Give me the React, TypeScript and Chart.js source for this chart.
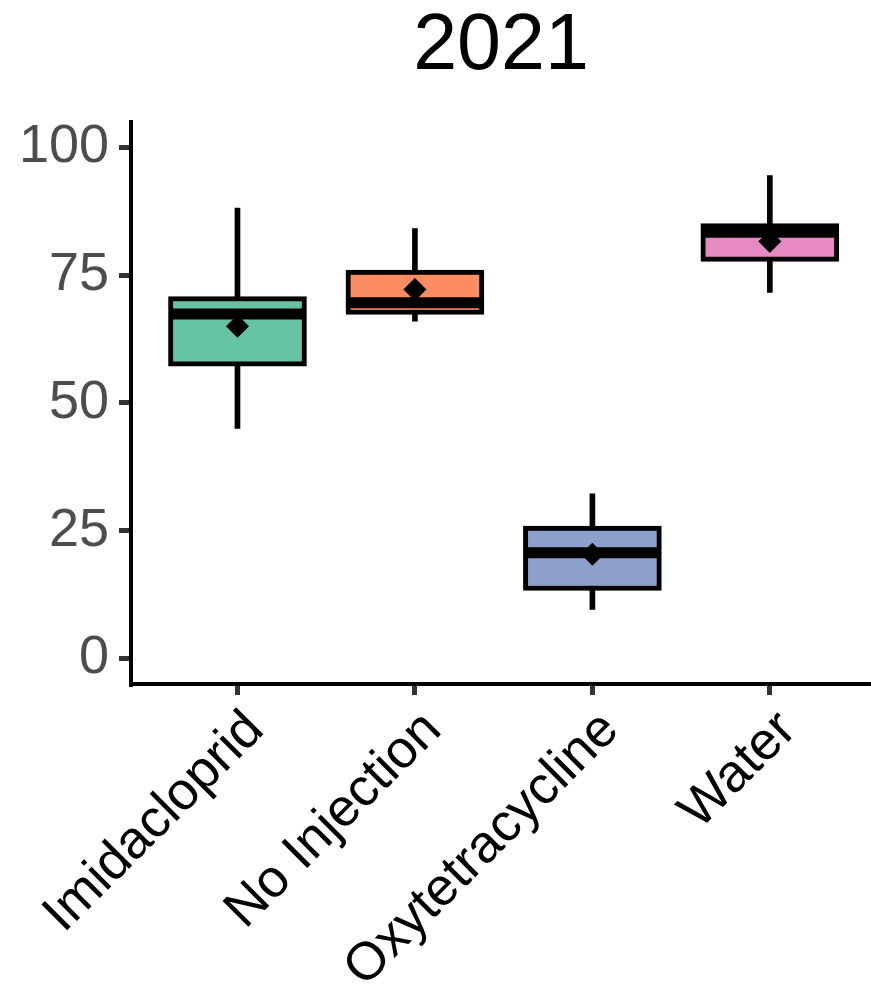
import React, { useEffect, useRef } from "react";
import { Chart, registerables } from "chart.js";

Chart.register(...registerables);

const TITLE = "2021";
const CATEGORIES = ["Imidacloprid", "No Injection", "Oxytetracycline", "Water"];
const WHISKER_LOW = [45.0, 66.0, 9.6, 71.6];
const Q1 = [57.2, 67.3, 13.3, 77.7];
const MEDIAN = [67.4, 69.6, 20.7, 83.4];
const Q3 = [70.8, 76.0, 25.9, 85.1];
const WHISKER_HIGH = [88.1, 84.1, 32.2, 94.5];
const MEAN = [65.0, 72.2, 20.4, 81.6];
const BOX_COLORS = ["#66C2A5", "#FC8D62", "#8DA0CB", "#E78AC3"];
const Y_TICKS = [0, 25, 50, 75, 100];

const FONT = "'Liberation Sans', Arial, Helvetica, sans-serif";

export default function App() {
  const ref = useRef<HTMLCanvasElement | null>(null);

  useEffect(() => {
    document.body.style.margin = "0";
    const canvas = ref.current;
    if (!canvas) return;
    const xs = CATEGORIES.map((_, i) => i + 1);

    const chart = new Chart(canvas, {
      type: "bar",
      data: {
        datasets: [
          {
            type: "bar",
            label: "whisker",
            data: xs.map((x, i) => ({ x, y: [WHISKER_LOW[i], WHISKER_HIGH[i]] })),
            backgroundColor: "#000000",
            borderWidth: 0,
            barThickness: 5,
            grouped: false,
            order: 4,
          } as any,
          {
            type: "bar",
            label: "box",
            data: xs.map((x, i) => ({ x, y: [Q1[i], Q3[i]] })),
            backgroundColor: BOX_COLORS,
            borderColor: "#000000",
            borderWidth: 5,
            borderSkipped: false,
            barThickness: 138,
            grouped: false,
            order: 3,
          } as any,
          {
            type: "scatter",
            label: "median",
            data: xs.map((x, i) => ({ x, y: MEDIAN[i] })),
            pointStyle: "line",
            pointRadius: 67,
            borderColor: "#000000",
            backgroundColor: "#000000",
            pointBorderWidth: 11,
            clip: false,
            order: 2,
          } as any,
          {
            type: "scatter",
            label: "mean",
            data: xs.map((x, i) => ({ x, y: MEAN[i] })),
            pointStyle: "rectRot",
            pointRadius: 11,
            pointBorderWidth: 1,
            borderColor: "#000000",
            backgroundColor: "#000000",
            order: 1,
          } as any,
        ],
      },
      options: {
        responsive: false,
        animation: false,
        events: [],
        layout: { padding: 0, autoPadding: false },
        plugins: {
          legend: { display: false },
          tooltip: { enabled: false },
          title: {
            display: true,
            text: TITLE,
            fullSize: false,
            color: "#000000",
            font: { family: FONT, size: 79, weight: "normal" },
            padding: { top: 0, bottom: 27 },
          },
        },
        scales: {
          x: {
            type: "linear",
            min: 0.4,
            max: 4.57,
            offset: false,
            afterBuildTicks: (scale: any) => {
              scale.ticks = xs.map((v) => ({ value: v }));
            },
            afterFit: (scale: any) => {
              scale.height = 317;
              scale.paddingLeft = 0;
              scale.paddingRight = 0;
            },
            grid: {
              offset: false,
              drawOnChartArea: false,
              drawTicks: true,
              tickLength: 11,
              tickColor: "#333333",
              lineWidth: 5,
            },
            border: { display: true, color: "#000000", width: 4 },
            ticks: {
              autoSkip: false,
              minRotation: 45,
              maxRotation: 45,
              padding: 4,
              labelOffset: 18,
              color: "#000000",
              font: { family: FONT, size: 53 },
              callback: (v: any) => CATEGORIES[Math.round(Number(v)) - 1] ?? "",
            },
          },
          y: {
            type: "linear",
            min: -5,
            max: 105,
            afterBuildTicks: (scale: any) => {
              scale.ticks = Y_TICKS.map((v) => ({ value: v }));
            },
            afterFit: (scale: any) => {
              scale.width = 131;
            },
            grid: {
              drawOnChartArea: false,
              drawTicks: true,
              tickLength: 12,
              tickColor: "#333333",
              lineWidth: 5,
            },
            border: { display: true, color: "#000000", width: 4 },
            ticks: {
              padding: 10,
              color: "#4D4D4D",
              font: { family: FONT, size: 54 },
              callback: (v: any) => String(v),
            },
          },
        },
      },
    });

    return () => chart.destroy();
  }, []);

  return (
    <canvas
      ref={ref}
      width={871}
      height={1001}
      style={{ display: "block", width: 871, height: 1001 }}
    />
  );
}
